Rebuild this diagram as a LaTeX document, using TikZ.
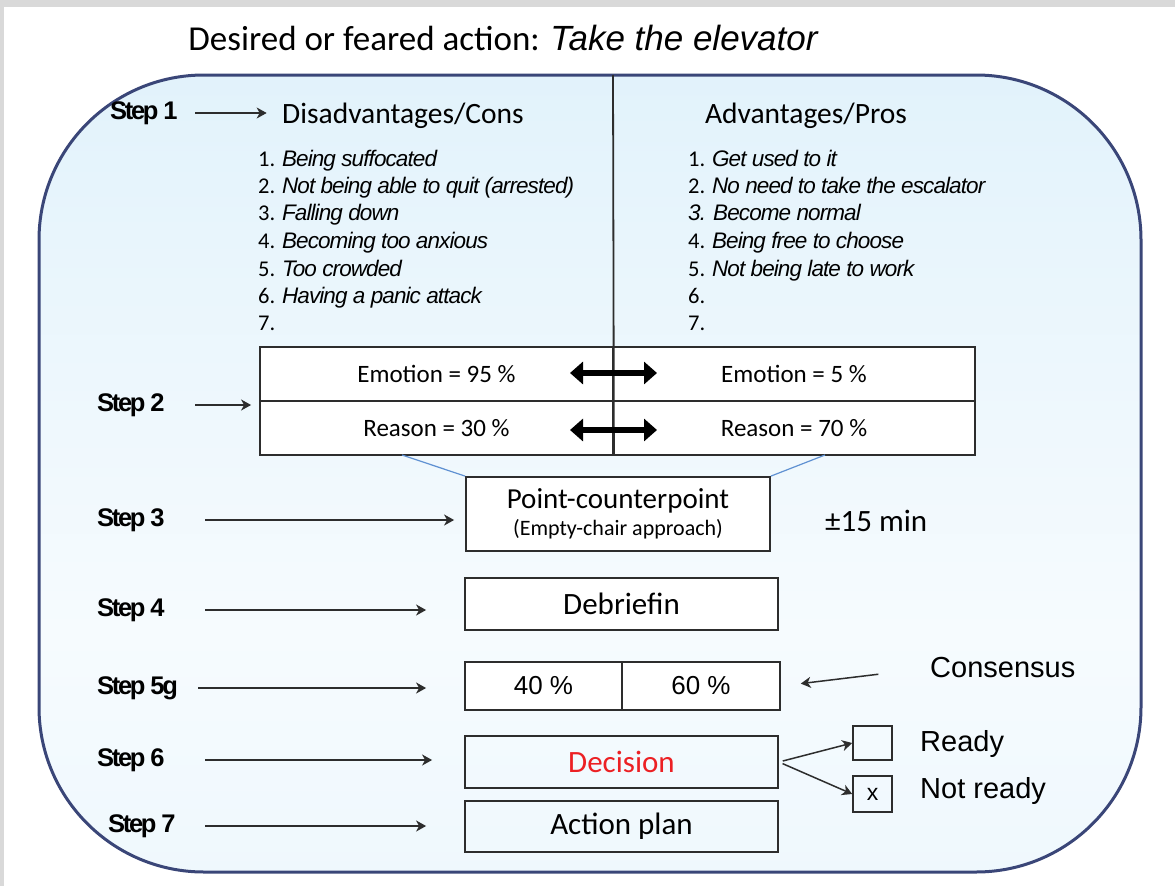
\documentclass[tikz,border=0pt]{standalone}
\usepackage{fontspec}
\setmainfont{Carlito}
\newfontfamily\arialfont{Liberation Sans}
\newfontfamily\tightfont[LetterSpace=-4]{Liberation Sans}
\newfontfamily\stepfont[LetterSpace=-9]{Liberation Sans}
\usetikzlibrary{arrows.meta,positioning}
\definecolor{dcnavy}{RGB}{58,70,120}
\definecolor{dcline}{RGB}{45,45,45}
\definecolor{dclink}{RGB}{95,145,210}
\definecolor{dcred}{RGB}{236,32,36}
\pgfdeclareverticalshading{dcpanel}{100bp}{
  color(0bp)=(rgb,255:red,218;green,239;blue,251);
  color(18bp)=(rgb,255:red,236;green,247;blue,253);
  color(40bp)=(rgb,255:red,246;green,251;blue,254);
  color(65bp)=(rgb,255:red,232;green,245;blue,252);
  color(100bp)=(rgb,255:red,210;green,235;blue,249)}
\tikzset{
 dc box/.style={draw=dcline,line width=1.8pt,inner sep=0pt,
                font=\fontsize{31}{34}\selectfont},
 dc cell/.style={draw=dcline,line width=1.8pt,fill=white,inner sep=0pt,
                 minimum height=54pt,font=\fontsize{25}{28}\selectfont},
 dc step/.style={anchor=west,inner sep=0pt,
                 font=\stepfont\bfseries\fontsize{25.5}{27}\selectfont},
 dc arrow/.style={line width=1.5pt,draw=dcline,
                  -{Stealth[length=10pt,width=11pt,inset=3pt]}},
 dc fat arrow/.style={line width=6pt,
                      {Triangle[length=13pt,width=22pt]}-{Triangle[length=13pt,width=22pt]}},
 dc item/.style={anchor=base west,inner sep=0pt,font=\fontsize{22.5}{24}\selectfont},
 dc head/.style={font=\fontsize{29.5}{32}\selectfont},
 dc side/.style={inner sep=0pt,font=\arialfont\fontsize{29}{32}\selectfont},
 dc link/.style={draw=dclink,line width=1.2pt}
}

\begin{document}
\begin{tikzpicture}[x=1pt,y=-1pt]
 \useasboundingbox (0,0) rectangle (1175,886);
 % window shadow
 \fill[gray!30] (0,0) rectangle (1175,7);
 \fill[gray!30] (0,0) rectangle (4,886);
 % title
 \node[font=\fontsize{35}{38}\selectfont] (title) at (503,38)
   {Desired or feared action: {\arialfont\itshape Take the elevator}};
 % rounded panel
 \shade[shading=dcpanel,rounded corners=165pt] (39,75) rectangle (1141,872);
 \draw[dcnavy,line width=3pt,rounded corners=165pt] (39,75) rectangle (1141,872);

 % step 1: pros and cons
 \node[dc head] (hcon) at (403,116) {Disadvantages/Cons};
 \node[dc head] (hpro) at (806,116) {Advantages/Pros};
 \foreach \i/\y/\t in {1/166/{Being suffocated},
                       2/193/{Not being able to quit (arrested)},
                       3/220/{Falling down},
                       4/248/{Becoming too anxious},
                       5/276/{Too crowded},
                       6/303/{Having a panic attack},
                       7/330/{}}{
   \node[dc item] (con\i) at (258,\y) {\i. {\tightfont\itshape\t}};
 }
 \foreach \i/\y/\t in {1/166/{Get used to it},
                       2/193/{No need to take the escalator},
                       4/248/{Being free to choose},
                       5/276/{Not being late to work},
                       6/303/{},
                       7/330/{}}{
   \node[dc item] (pro\i) at (688,\y) {\i. {\tightfont\itshape\t}};
 }
 \node[dc item] (pro3) at (688,220) {{\tightfont\itshape 3. Become normal}};

 % step 2: emotion / reason table
 \node[dc cell,minimum width=353pt] (emo1) at (436.5,374) {Emotion = 95 \%};
 \node[dc cell,minimum width=362pt] (emo2) at (794,374) {Emotion = 5 \%};
 \node[dc cell,minimum width=353pt] (rea1) at (436.5,428) {Reason = 30 \%};
 \node[dc cell,minimum width=362pt] (rea2) at (794,428) {Reason = 70 \%};
 \coordinate (split top) at (613,75);
 \draw[dcline,line width=1.8pt] (split top) -- (emo1.north east |- rea1.south);
 \draw[dc fat arrow] (570,373) -- (657,373);
 \draw[dc fat arrow] (570,430) -- (657,430);

 % step 3
 \node[dc box,fill=white,minimum width=304pt,minimum height=74pt,align=center,
       font=\fontsize{29}{30}\selectfont]
   (pcp) at (618,514)
   {Point-counterpoint\\[-3pt]{\fontsize{22}{24}\selectfont(Empty-chair approach)}};
 \coordinate (lnk1) at (402,455);
 \coordinate (lnk2) at (825,455);
 \draw[dc link] (lnk1) -- (pcp.north west);
 \draw[dc link] (lnk2) -- (pcp.north east);
 \node[dc side,anchor=west,font=\fontsize{31}{32}\selectfont] (time) at (825,521) {±15 min};

 % step 4
 \node[dc box,fill=white,minimum width=313pt,minimum height=52pt]
   (deb) at (621.5,604) {Debriefin};

 % step 5g
 \node[dc box,fill=white,minimum width=157pt,minimum height=48pt,
       font=\arialfont\fontsize{26}{28}\selectfont] (five1) at (543.5,686) {40 \%};
 \node[dc box,fill=white,minimum width=158pt,minimum height=48pt,
       font=\arialfont\fontsize{26}{28}\selectfont] (five2) at (701,686) {60 \%};
 \node[dc side,anchor=west] (cns) at (930,668) {Consensus};
 \draw[dc arrow,shorten <=52pt,shorten >=20pt] (cns.west) -- (five2.east);

 % step 6
 \node[dc box,minimum width=313pt,minimum height=52pt,text=dcred]
   (dec) at (621.5,762) {Decision};
 \node[draw=dcline,line width=1.6pt,minimum width=39pt,minimum height=34pt,
       inner sep=0pt] (rdy) at (872.5,743) {};
 \node[draw=dcline,line width=1.6pt,minimum width=39pt,minimum height=36pt,
       inner sep=0pt,font=\arialfont\fontsize{23}{24}\selectfont] (nrd) at (872.5,794) {x};
 \node[dc side,anchor=west] (trdy) at (920,744) {Ready};
 \node[dc side,anchor=west] (tnrd) at (920,791) {Not ready};
 \draw[dc arrow,shorten <=4pt] (dec.east) -- (rdy.west);
 \draw[dc arrow,shorten <=4pt] (dec.east) -- (nrd.west);

 % step 7
 \node[dc box,minimum width=313pt,minimum height=51pt]
   (act) at (621.5,826.5) {Action plan};

 % step labels and their arrows
 \node[dc step] (s1) at (110,113) {Step 1};
 \node[dc step] (s2) at (97,405) {Step 2};
 \node[dc step] (s3) at (97,520) {Step 3};
 \node[dc step] (s4) at (97,610) {Step 4};
 \node[dc step] (s5) at (97,688) {Step 5g};
 \node[dc step] (s6) at (97,760) {Step 6};
 \node[dc step] (s7) at (108,826) {Step 7};
 \foreach \n/\x/\b/\g in {1/195/hcon/12,2/195/emo1/8,3/205/pcp/11,4/205/deb/38,
                          5/198/five1/38,6/205/dec/32,7/205/act/38}{
   \coordinate (a\n) at (\x,0 |- s\n.east);
   \draw[dc arrow,shorten >=\g pt] (a\n) -- (a\n -| \b.west);
 }
\end{tikzpicture}
\end{document}
